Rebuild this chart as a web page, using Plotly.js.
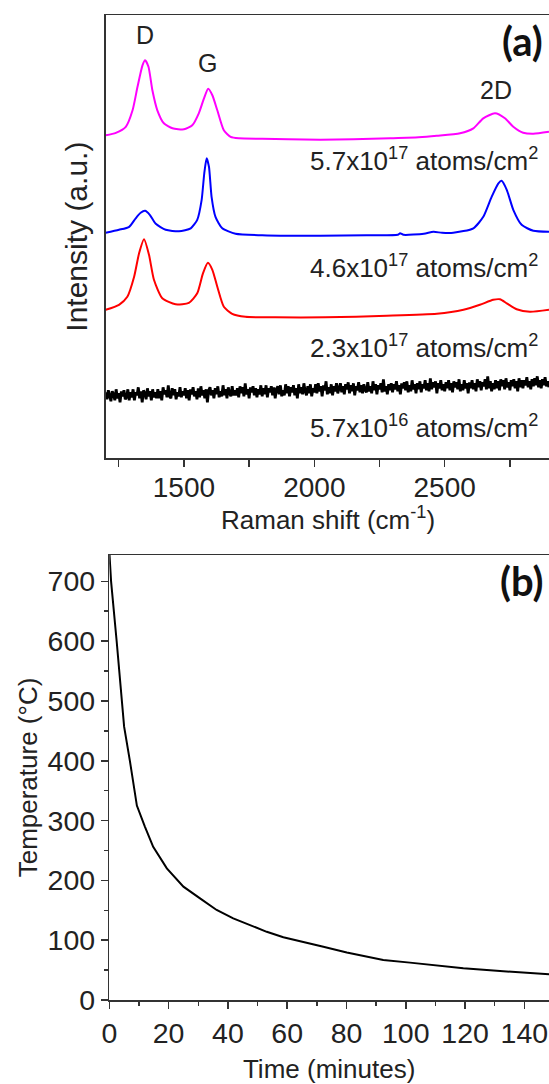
<!DOCTYPE html>
<html><head><meta charset="utf-8">
<script src="https://cdn.plot.ly/plotly-3.0.1.min.js"></script>
<style>html,body{margin:0;padding:0;background:#fff;overflow:hidden}#chart{width:549px;height:1084px}</style>
</head><body><div id="chart"></div>
<script>
// ---------- Panel (a): Raman spectra (intensity in a.u., stacked) ----------
const shift_57e17 = [1200,1239,1277,1303,1322,1341,1351,1364,1379,1398,1423,1456,1500,1532,1557,1577,1593,1609,1628,1653,1679,1710,1800,1900,2023,2150,2291,2400,2470,2559,2610,2648,2693,2731,2763,2801,2840,2900];
const int_57e17   = [323,325.5,331.5,348,371.5,393,398,391.5,368,348,335,330,329,333,345,360,369.5,363,348,328,321.5,320,319.5,319,318.5,319,320,321,322.5,325,330,340,345,340,331.5,325.5,324.5,326.5];

const shift_46e17 = [1200,1251,1290,1315,1334,1351,1369,1392,1430,1481,1526,1551,1568,1578,1587,1596,1606,1621,1647,1698,1800,1900,2023,2200,2320,2329,2342,2420,2457,2490,2533,2610,2648,2680,2706,2718,2738,2763,2795,2840,2900];
const int_46e17   = [225.5,228.5,231.5,240,245.5,247.5,243.5,234.5,228.5,227,230,238.5,258.5,285,300,291.5,261.5,241.5,230,224.5,223,222.5,222.5,223,223.5,225,223.5,224.5,226.5,225.5,225.5,230,241.5,261.5,275,277.5,268.5,248.5,233.5,227.5,226.5];

const shift_23e17 = [1200,1251,1283,1309,1328,1347,1366,1385,1417,1468,1519,1551,1573,1592,1609,1628,1653,1685,1736,1850,2042,2278,2470,2572,2635,2686,2712,2738,2776,2827,2900];
const int_23e17   = [148.5,153.5,161.5,181.5,205,219,203.5,178.5,160,154,155.5,165,185,195.5,188.5,171.5,151.5,144.5,141.5,141,141,142.5,144.5,148.5,153.5,158.5,159,155,149,146.5,148.5];

// 5.7x10^16 atoms/cm^2: noisy flat spectrum, one reading every 5 cm^-1 from 1200 cm^-1
const shiftStart_57e16 = 1200, shiftStep_57e16 = 5;
const int_57e16 = [
66,59,68,61,57,67,64,58,69,60,65,56,67,62,68,59,61,69,58,66,
61,69,58,66,63,71,60,67,56,68,65,59,70,62,67,58,69,61,66,60,
69,60,67,58,71,64,68,61,73,62,60,70,63,69,59,66,62,71,61,67,
63,70,60,68,58,69,64,71,62,67,59,70,61,72,63,68,60,69,56,68,
71,63,68,60,70,64,72,61,67,62,73,63,69,60,71,65,62,72,63,68,
63,70,61,72,65,71,62,75,64,69,60,71,66,72,63,70,61,69,64,73,
62,70,64,73,61,70,66,72,63,71,60,69,72,64,73,62,68,63,74,65,
72,62,71,66,73,63,70,60,74,65,71,64,75,67,63,72,65,74,62,70,
66,74,65,75,67,72,62,73,68,77,64,71,65,74,63,72,67,75,65,70,
75,66,72,64,74,69,76,65,73,67,75,63,72,68,76,66,73,65,74,68,
66,76,67,72,65,77,68,74,64,73,69,75,66,79,67,72,64,74,68,75,
66,74,69,77,67,73,64,75,70,76,68,77,66,73,67,78,69,74,65,75,
69,77,66,74,70,78,68,75,67,80,69,76,71,77,65,75,70,78,68,74,
67,76,70,78,68,75,66,77,71,76,69,79,67,74,68,78,70,75,65,76,
70,78,69,75,67,79,71,77,68,76,72,79,69,82,70,77,67,75,69,78,
70,77,68,79,72,78,69,80,71,76,68,78,72,79,70,77,67,80,71,78,
70,78,73,81,71,77,69,79,72,80,73,82,71,78,70,79,73,81,72,77,71];

const doseLabels = ['5.7x10<sup>17</sup> atoms/cm<sup>2</sup>','4.6x10<sup>17</sup> atoms/cm<sup>2</sup>','2.3x10<sup>17</sup> atoms/cm<sup>2</sup>','5.7x10<sup>16</sup> atoms/cm<sup>2</sup>'];
const peakNames = ['D','G','2D'];
const peakShifts = [1350,1591,2697];

// ---------- Panel (b): cooling curve ----------
const timeMin = [0,0.6,2.5,3.6,5.0,7.0,9.3,12,14.8,19.4,25,30.6,36.2,41.8,47.5,53.1,58.7,65.5,72.2,80.1,89.1,92.4,101.4,110.5,119.4,127.3,135.2,141.9,148.3];
const tempC   = [750,700,599,538,457,398,325,290,256,220,189.5,170,150.5,136.5,125.5,114,105,97.5,89,79.5,69.5,67,62.5,57.5,53,50,47,44.5,43];

// ---------- layout helpers ----------
const W = 549, H = 1084;
const PX = x => x / W, PY = y => 1 - y / H;
const FONT = '"Liberation Sans", Arial, sans-serif';
const AX = '#333';

const traces = [
  {x: shift_57e17, y: int_57e17, mode:'lines', line:{color:'#ff00ff', width:2, shape:'spline', smoothing:0.6}, xaxis:'x', yaxis:'y', hoverinfo:'skip'},
  {x: shift_46e17, y: int_46e17, mode:'lines', line:{color:'#0000ff', width:2, shape:'spline', smoothing:0.6}, xaxis:'x', yaxis:'y', hoverinfo:'skip'},
  {x: shift_23e17, y: int_23e17, mode:'lines', line:{color:'#ff0000', width:2, shape:'spline', smoothing:0.6}, xaxis:'x', yaxis:'y', hoverinfo:'skip'},
  {x0: shiftStart_57e16, dx: shiftStep_57e16, y: int_57e16, mode:'lines', line:{color:'#000000', width:2.8}, xaxis:'x', yaxis:'y', hoverinfo:'skip'},
  {x: timeMin, y: tempC, mode:'lines', line:{color:'#000000', width:2}, xaxis:'x2', yaxis:'y2', hoverinfo:'skip'}
];

const tickFontA = {family: FONT, size: 28, color:'#222'};
const tickFontB = {family: FONT, size: 28.5, color:'#222'};
const titleFont = {family: FONT, size: 26, color:'#222'};

const layout = {
  width: W, height: H,
  margin: {l:0, r:0, t:0, b:0},
  paper_bgcolor:'#fff', plot_bgcolor:'#fff',
  font: {family: FONT, size: 26, color:'#222'},
  showlegend:false,
  xaxis: {
    domain:[PX(105.7), 1], anchor:'y', range:[1200, 2900],
    tick0:0, dtick:500, ticks:'outside', ticklen:7, tickwidth:1.5, tickcolor:AX,
    minor:{dtick:250, ticks:'outside', ticklen:7, tickwidth:1.5, tickcolor:AX, showgrid:false},
    showline:true, linecolor:AX, linewidth:1.5, mirror:true,
    showgrid:false, zeroline:false, automargin:false, ticklabeloverflow:'allow',
    ticklabelstandoff:-3,
    tickfont: tickFontA
  },
  yaxis: {
    domain:[PY(458.3), PY(15)], anchor:'x', range:[0, 443.3],
    showticklabels:false, ticks:'', showline:true, linecolor:AX, linewidth:1.5, mirror:false,
    showgrid:false, zeroline:false, automargin:false,
    title:{text:'Intensity (a.u.)', font:{family: FONT, size: 30, color:'#222'}, standoff:7}
  },
  xaxis2: {
    domain:[PX(109.3), 1], anchor:'y2', range:[0, 148.3],
    tick0:0, dtick:20, ticks:'outside', ticklen:7, tickwidth:1.5, tickcolor:AX,
    minor:{dtick:10, ticks:'outside', ticklen:4, tickwidth:1.5, tickcolor:AX, showgrid:false},
    showline:true, linecolor:AX, linewidth:1.5, mirror:true,
    showgrid:false, zeroline:false, automargin:false, ticklabeloverflow:'allow',
    tickfont: tickFontB,
    title:{text:'Time (minutes)', font:titleFont, standoff:18}
  },
  yaxis2: {
    domain:[PY(1000), PY(555)], anchor:'x2', range:[0, 744],
    tick0:0, dtick:100, ticks:'outside', ticklen:7, tickwidth:1.5, tickcolor:AX,
    minor:{dtick:50, ticks:'outside', ticklen:4, tickwidth:1.5, tickcolor:AX, showgrid:false},
    showline:true, linecolor:AX, linewidth:1.5, mirror:false,
    showgrid:false, zeroline:false, automargin:false, ticklabeloverflow:'allow',
    tickfont: tickFontB,
    title:{text:'Temperature (°C)', font:titleFont, standoff:2}
  },
  annotations: [
    // x-axis title of panel (a)
    {xref:'paper', yref:'paper', x:PX(328), y:PY(518), text:'Raman shift (cm<sup>-1</sup>)', showarrow:false, font:titleFont, xanchor:'center', yanchor:'middle'},
    {xref:'x', yref:'paper', x:peakShifts[0], y:PY(35), text:peakNames[0], showarrow:false, font:{family:FONT,size:25,color:'#222'}, xanchor:'center', yanchor:'middle'},
    {xref:'x', yref:'paper', x:peakShifts[1], y:PY(63), text:peakNames[1], showarrow:false, font:{family:FONT,size:25,color:'#222'}, xanchor:'center', yanchor:'middle'},
    {xref:'x', yref:'paper', x:peakShifts[2], y:PY(89.5), text:peakNames[2], showarrow:false, font:{family:FONT,size:25,color:'#222'}, xanchor:'center', yanchor:'middle'},
    {xref:'paper', yref:'paper', x:PX(540), y:PY(159), text:doseLabels[0], showarrow:false, font:{family:FONT,size:26,color:'#222'}, xanchor:'right', yanchor:'middle'},
    {xref:'paper', yref:'paper', x:PX(540), y:PY(266), text:doseLabels[1], showarrow:false, font:{family:FONT,size:26,color:'#222'}, xanchor:'right', yanchor:'middle'},
    {xref:'paper', yref:'paper', x:PX(540), y:PY(346), text:doseLabels[2], showarrow:false, font:{family:FONT,size:26,color:'#222'}, xanchor:'right', yanchor:'middle'},
    {xref:'paper', yref:'paper', x:PX(540), y:PY(426), text:doseLabels[3], showarrow:false, font:{family:FONT,size:26,color:'#222'}, xanchor:'right', yanchor:'middle'},
    {xref:'paper', yref:'paper', x:PX(522), y:PY(41), text:'<b>(a)</b>', showarrow:false, font:{family:'Lato, "Open Sans", sans-serif',size:40,color:'#111'}, xanchor:'center', yanchor:'middle'},
    {xref:'paper', yref:'paper', x:PX(522), y:PY(581), text:'<b>(b)</b>', showarrow:false, font:{family:'Lato, "Open Sans", sans-serif',size:40,color:'#111'}, xanchor:'center', yanchor:'middle'}
  ]
};

Plotly.newPlot('chart', traces, layout, {displayModeBar:false, staticPlot:true});
</script></body></html>
